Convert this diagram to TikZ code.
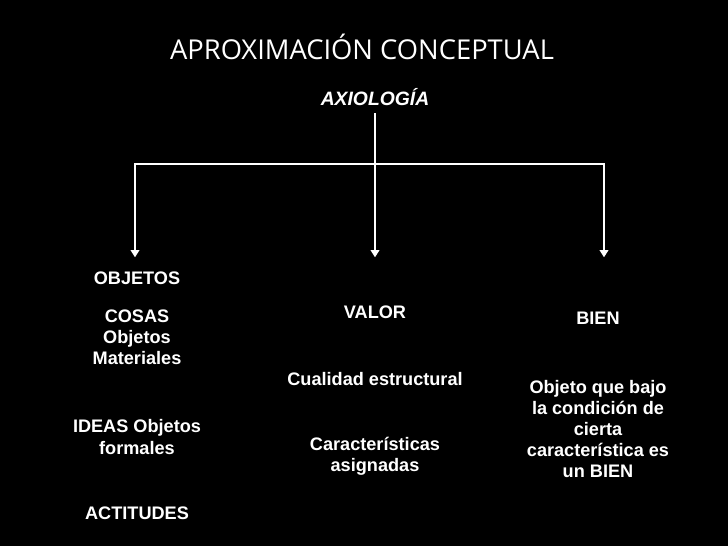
\documentclass[tikz,border=0pt]{standalone}
\usepackage{fontspec}
\setmainfont{Liberation Sans}
\newfontfamily\titlefont{Open Sans}
\usetikzlibrary{arrows.meta}
\tikzset{
  txt/.style={text=white, font=\bfseries\fontsize{13.6}{15.9}\selectfont, align=center, inner sep=0pt},
  branch/.style={draw=white, line width=2.2pt},
  branchar/.style={branch, -{Triangle[width=6.5pt,length=5.5pt]}, shorten >=-1pt}
}
\begin{document}
\begin{tikzpicture}[x=0.75pt,y=-0.75pt]
\fill[black] (0,0) rectangle (728,546);
\useasboundingbox (0,0) rectangle (728,546);
% title
\node[text=white, inner sep=0pt, font=\titlefont\fontsize{20.5}{24}\selectfont] (title) at (362,47) {APROXIMACIÓN CONCEPTUAL};
\node[txt, font=\bfseries\itshape\fontsize{14.5}{16}\selectfont] (axio) at (375,97) {AXIOLOGÍA};
% branching
\coordinate (top) at (375,113);
\coordinate (mid) at (375,164);
\coordinate (left) at (135,164);
\coordinate (right) at (604,164);
\coordinate (endl) at (135,256);
\coordinate (endm) at (375,256);
\coordinate (endr) at (604,256);
\draw[branch] (top) -- (mid);
\draw[branch, line cap=rect] (left) -- (right);
\draw[branchar] (left) -- (endl);
\draw[branchar] (mid) -- (endm);
\draw[branchar] (right) -- (endr);
% left column
\node[txt] (objetos) at (137,278) {OBJETOS};
\node[txt] (cosas) at (137,337) {COSAS\\Objetos\\Materiales};
\node[txt] (ideas) at (137,437) {IDEAS Objetos\\formales};
\node[txt] (actitudes) at (137,513) {ACTITUDES};
% middle column
\node[txt] (valor) at (375,312) {VALOR};
\node[txt] (cualidad) at (375,379) {Cualidad estructural};
\node[txt] (caract) at (375,456) {Características\\asignadas};
% right column
\node[txt] (bien) at (598,318) {BIEN};
\node[txt] (objeto) at (598,429) {Objeto que bajo\\la condición de\\cierta\\característica es\\un BIEN};
\end{tikzpicture}
\end{document}
